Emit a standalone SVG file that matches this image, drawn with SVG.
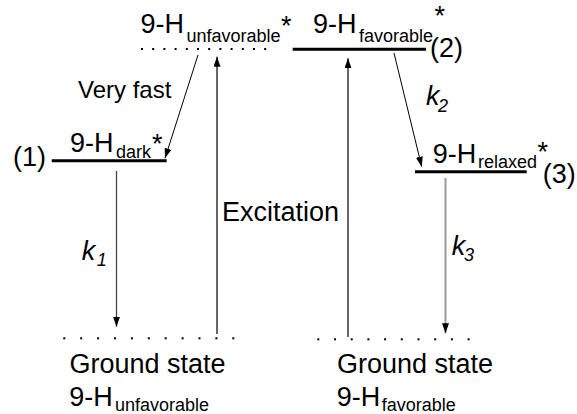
<svg xmlns="http://www.w3.org/2000/svg" width="577" height="414" viewBox="0 0 577 414">
<style>
text{font-family:"Liberation Sans",Arial,sans-serif;fill:#000}
.m{font-size:27px}
.s{font-size:18px}
.v{font-size:24px}
.k{font-style:italic}
.lvl{stroke:#000;stroke-width:3}
.dot{fill:#000}
.thin{stroke:#000;stroke-width:1;fill:none}
.gray{stroke:#666;stroke-width:2;fill:none}
.lgray{stroke:#999;stroke-width:2;fill:none}
.dgray{stroke:#444;stroke-width:1.3;fill:none}
</style>
<defs>
<marker id="ah" markerUnits="userSpaceOnUse" markerWidth="11" markerHeight="8" refX="10" refY="3.5" orient="auto">
<path d="M0,0 L10,3.5 L0,7 z" fill="#000"/>
</marker>
</defs>

<g id="node-unfavorable-excited">
<text x="140.5" y="33.3" class="m">9-H</text>
<text x="186.5" y="41.7" class="s">unfavorable</text>
<text x="281" y="35" class="m">*</text>
<g class="dot">
<rect x="141" y="48" width="2" height="2"/><rect x="152.2" y="48" width="2" height="2"/><rect x="163.4" y="48" width="2" height="2"/><rect x="174.6" y="48" width="2" height="2"/><rect x="185.8" y="48" width="2" height="2"/><rect x="197" y="48" width="2" height="2"/><rect x="208.2" y="48" width="2" height="2"/><rect x="219.4" y="48" width="2" height="2"/><rect x="230.6" y="48" width="2" height="2"/><rect x="241.8" y="48" width="2" height="2"/><rect x="253" y="48" width="2" height="2"/><rect x="264.2" y="48" width="2" height="2"/>
</g>
</g>

<g id="node-favorable-excited">
<text x="313" y="33.3" class="m">9-H</text>
<text x="359" y="41.7" class="s">favorable</text>
<text x="434.5" y="25" class="m">*</text>
<text x="430" y="57" class="m">(2)</text>
<line x1="292.7" y1="49.3" x2="426" y2="49.3" class="lvl"/>
</g>

<g id="node-dark">
<text x="13" y="166" class="m">(1)</text>
<text x="70" y="151.7" class="m">9-H</text>
<text x="116" y="158.3" class="s">dark</text>
<text x="152" y="152.5" class="m">*</text>
<line x1="51.7" y1="160.7" x2="166.7" y2="160.7" class="lvl"/>
</g>

<g id="node-relaxed">
<text x="432.7" y="163.3" class="m">9-H</text>
<text x="478" y="168.3" class="s">relaxed</text>
<text x="537.5" y="161" class="m">*</text>
<text x="542.7" y="183" class="m">(3)</text>
<line x1="415" y1="171.7" x2="526.7" y2="171.7" class="lvl"/>
</g>

<g id="node-ground-unfavorable">
<g class="dot">
<rect x="63.3" y="337.3" width="2" height="2"/><rect x="80.2" y="337.3" width="2" height="2"/><rect x="97.1" y="337.3" width="2" height="2"/><rect x="114" y="337.3" width="2" height="2"/><rect x="130.9" y="337.3" width="2" height="2"/><rect x="147.8" y="337.3" width="2" height="2"/><rect x="164.7" y="337.3" width="2" height="2"/><rect x="181.6" y="337.3" width="2" height="2"/><rect x="198.5" y="337.3" width="2" height="2"/><rect x="215.4" y="337.3" width="2" height="2"/><rect x="232.3" y="337.3" width="2" height="2"/>
</g>
<text x="69.5" y="372.7" class="m">Ground state</text>
<text x="69.3" y="406" class="m">9-H</text>
<text x="115" y="411" class="s">unfavorable</text>
</g>

<g id="node-ground-favorable">
<g class="dot">
<rect x="317.3" y="338.3" width="2" height="2"/><rect x="334" y="338.3" width="2" height="2"/><rect x="350.7" y="338.3" width="2" height="2"/><rect x="367.4" y="338.3" width="2" height="2"/><rect x="384.1" y="338.3" width="2" height="2"/><rect x="400.8" y="338.3" width="2" height="2"/><rect x="417.5" y="338.3" width="2" height="2"/><rect x="434.2" y="338.3" width="2" height="2"/><rect x="450.9" y="338.3" width="2" height="2"/><rect x="467.6" y="338.3" width="2" height="2"/>
</g>
<text x="337" y="372.7" class="m">Ground state</text>
<text x="336.7" y="406" class="m">9-H</text>
<text x="381.7" y="411" class="s">favorable</text>
</g>

<g id="connectors">
<line x1="198" y1="55" x2="165" y2="158.3" class="thin" marker-end="url(#ah)"/>
<text x="78" y="98.3" class="v">Very fast</text>
<line x1="394" y1="53" x2="421.7" y2="166.7" class="thin" marker-end="url(#ah)"/>
<text x="426" y="105" class="m k">k</text><text x="438" y="111.7" class="s k">2</text>
<line x1="217" y1="334" x2="217" y2="56.7" class="gray" marker-end="url(#ah)"/>
<line x1="348" y1="337" x2="348" y2="58.3" class="gray" marker-end="url(#ah)"/>
<text x="222" y="221" class="m">Excitation</text>
<line x1="116.5" y1="171" x2="116.5" y2="326.7" class="dgray" marker-end="url(#ah)"/>
<text x="81.7" y="260" class="m k">k</text><text x="96.7" y="266" class="s k">1</text>
<line x1="445.5" y1="178" x2="445.5" y2="333.3" class="lgray" marker-end="url(#ah)"/>
<text x="451.7" y="255" class="m k">k</text><text x="464" y="261" class="s k">3</text>
</g>
</svg>
